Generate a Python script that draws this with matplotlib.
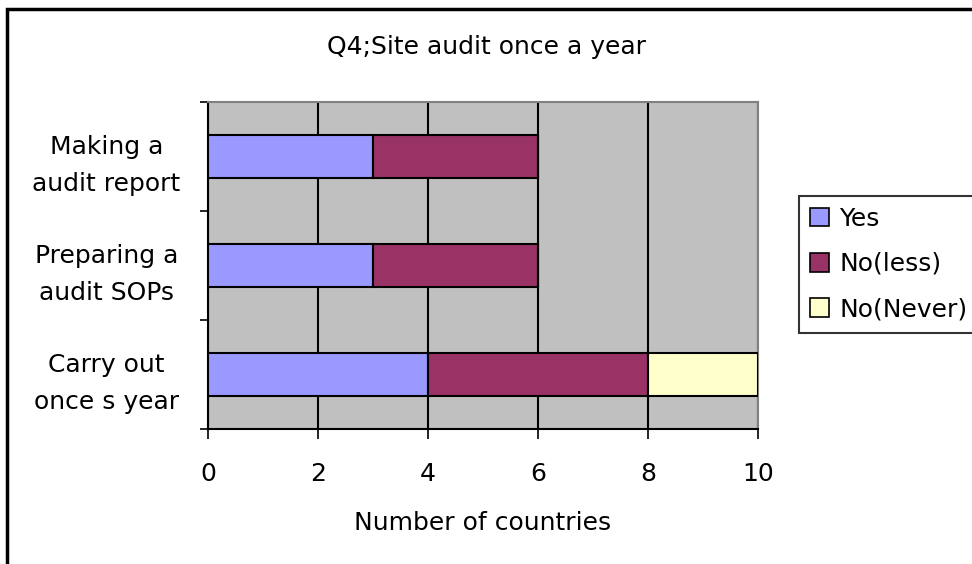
import matplotlib
matplotlib.use("Agg")
import matplotlib.pyplot as plt
import numpy as np
from matplotlib.patches import Rectangle, Patch

plt.rcParams['font.family'] = ['DejaVu Sans']

categories = ["Carry out\nonce s year", "Preparing a\naudit SOPs", "Making a\naudit report"]
yes = [4, 3, 3]
no_less = [4, 3, 3]
no_never = [2, 0, 0]
series_names = ["Yes", "No(less)", "No(Never)"]
colors = ["#9999FF", "#993366", "#FFFFCC"]

W, H = 972, 564
FS = 18
fig = plt.figure(figsize=(W / 100, H / 100), dpi=100)
ax = fig.add_axes([208 / W, 1 - 429 / H, (758 - 208) / W, (429 - 102) / H])
ax.set_facecolor("#C0C0C0")

# outer chart frame (right and bottom edges fall off the picture)
fig.patches.append(Rectangle((7 / W, -0.2), 1.5, (H - 9) / H + 0.2, transform=fig.transFigure,
                             fill=False, edgecolor="black", linewidth=2.5, zorder=0))

y = np.arange(len(categories))
left = np.zeros(len(categories))
for vals, name, c in zip([yes, no_less, no_never], series_names, colors):
    vals = np.array(vals, dtype=float)
    ax.barh(y, vals, left=left, height=0.4, color=c, edgecolor="black", linewidth=1.5,
            label=name, zorder=3)
    left += vals

ax.set_xlim(0, 10)
ax.set_ylim(-0.5, 2.5)
ax.set_xticks(np.arange(0, 11, 2))
ax.grid(axis="x", color="black", linewidth=1.5, zorder=1)
ax.set_axisbelow(True)

ax.set_yticks(y)
ax.set_yticklabels(categories, ha="center", fontsize=FS, linespacing=1.7)
ax.tick_params(axis="y", which="major", length=0, pad=73)
ax.set_yticks(np.arange(-0.5, 3, 1), minor=True)
ax.tick_params(axis="y", which="minor", length=6, width=1.2, direction="out")
ax.tick_params(axis="x", length=7.5, width=1.2, direction="out", labelsize=FS, pad=16)

for s in ["left", "bottom"]:
    ax.spines[s].set_color("black")
    ax.spines[s].set_linewidth(1.5)
for s in ["top", "right"]:
    ax.spines[s].set_color("#808080")
    ax.spines[s].set_linewidth(1.5)

ax.set_xlabel("Number of countries", fontsize=FS, labelpad=18)
fig.text(486 / W, 1 - 47 / H, "Q4;Site audit once a year", ha="center", va="center", fontsize=FS)

handles = [Patch(facecolor=c, edgecolor="black", linewidth=1.2) for c in colors]
leg = fig.legend(handles, series_names, loc="center left", bbox_to_anchor=(799 / W, 1 - 264 / H),
                 fontsize=FS, frameon=True, fancybox=False, edgecolor="black",
                 handlelength=0.76, handleheight=0.76, handletextpad=0.4, labelspacing=0.85,
                 borderpad=0.45, borderaxespad=0)
leg.get_frame().set_linewidth(1.5)

fig.savefig("out.png", dpi=100)
